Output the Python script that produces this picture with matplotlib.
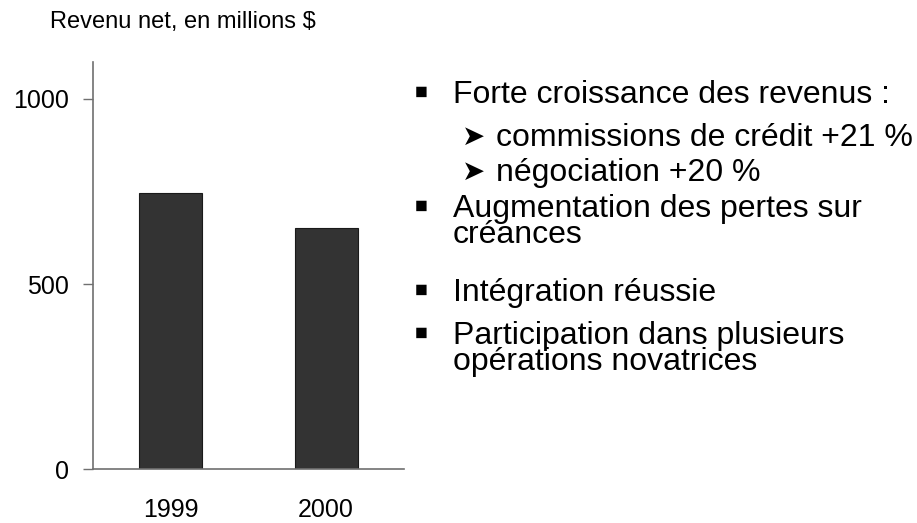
import matplotlib.pyplot as plt

# data
years = ['1999', '2000']
revenu = [746, 650]

title = 'Revenu net, en millions $'
# (kind, text, baseline pixel of first line)
bullets = [
    ('main', 'Forte croissance des revenus :', 102),
    ('sub', 'commissions de crédit +21 %', 145),
    ('sub', 'négociation +20 %', 180),
    ('main', 'Augmentation des pertes sur\ncréances', 216),
    ('main', 'Intégration réussie', 300),
    ('main', 'Participation dans plusieurs\nopérations novatrices', 343),
]

plt.rcParams['font.family'] = ['Liberation Sans', 'DejaVu Sans']

W, H = 917, 523
fig = plt.figure(figsize=(W / 100, H / 100), dpi=100)
ax = fig.add_axes([92.7 / W, 1 - 469.3 / H, (404 - 92.7) / W, (469.3 - 61.7) / H])

ax.bar(years, revenu, width=0.405, color='#333333', edgecolor='#1a1a1a', linewidth=0.8)
ax.set_xlim(-0.5, 1.5)
ax.set_ylim(0, 1100)
ax.set_yticks([0, 500, 1000])
ax.tick_params(axis='y', length=7, width=1, color='#707070', labelsize=18, pad=10)
ax.tick_params(axis='x', length=0, labelsize=18, pad=21)
for s in ['top', 'right']:
    ax.spines[s].set_visible(False)
for s in ['left', 'bottom']:
    ax.spines[s].set_color('#707070')
    ax.spines[s].set_linewidth(1.2)

fig.text(50 / W, 1 - 28 / H, title, fontsize=17, va='baseline', ha='left')

for kind, txt, y in bullets:
    if kind == 'main':
        fig.text(414 / W, 1 - (y + 3) / H, '▪', fontsize=30, va='baseline', ha='left')
        x0 = 453
    else:
        fig.text(462 / W, 1 - y / H, '➤', fontsize=20, va='baseline', ha='left')
        x0 = 496
    fig.text(x0 / W, 1 - (y - 22) / H, txt, fontsize=23, va='top', ha='left',
             linespacing=0.84)

fig.savefig('out.png', dpi=100)
plt.close()
